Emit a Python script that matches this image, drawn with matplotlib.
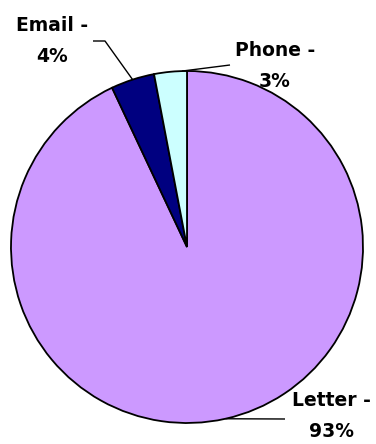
import numpy as np
import matplotlib.pyplot as plt

labels = ["Letter", "Email", "Phone"]
shares = [93, 4, 3]
colors = ["#CC99FF", "#000080", "#CCFFFF"]

# where each label sits (pixel space, y up) and the bend of its leader line
label_pos = {"Letter": (331, 28), "Email": (52, 403), "Phone": (275, 378)}
leader_bend = {"Letter": [(285, 25)], "Email": [(105, 403), (93, 403)], "Phone": [(230, 379)]}
anchor_frac = {"Letter": 0.5, "Email": 0.5, "Phone": 0.15}

W, H = 376, 444
fig = plt.figure(figsize=(W / 100, H / 100), dpi=100)
ax = fig.add_axes([0, 0, 1, 1])

cx, cy, r = 187, 197, 176
wedges, _ = ax.pie(shares, colors=colors, startangle=90, counterclock=False,
                   center=(cx, cy), radius=r, frame=True,
                   wedgeprops=dict(edgecolor="black", linewidth=1.3))
ax.set_xlim(0, W)
ax.set_ylim(0, H)
ax.set_aspect("equal")
ax.axis("off")

for w, name, val in zip(wedges, labels, shares):
    t = np.deg2rad(w.theta1 + anchor_frac[name] * (w.theta2 - w.theta1))
    start = (cx + r * np.cos(t), cy + r * np.sin(t))
    xs, ys = zip(*([start] + leader_bend[name]))
    ax.plot(xs, ys, color="black", lw=1.0, solid_capstyle="butt")
    lx, ly = label_pos[name]
    ax.text(lx, ly, f"{name} -\n{val}%", ha="center", va="center",
            fontsize=13.5, fontweight="bold", linespacing=1.85,
            family="DejaVu Sans")

fig.savefig("out.png", dpi=100)
